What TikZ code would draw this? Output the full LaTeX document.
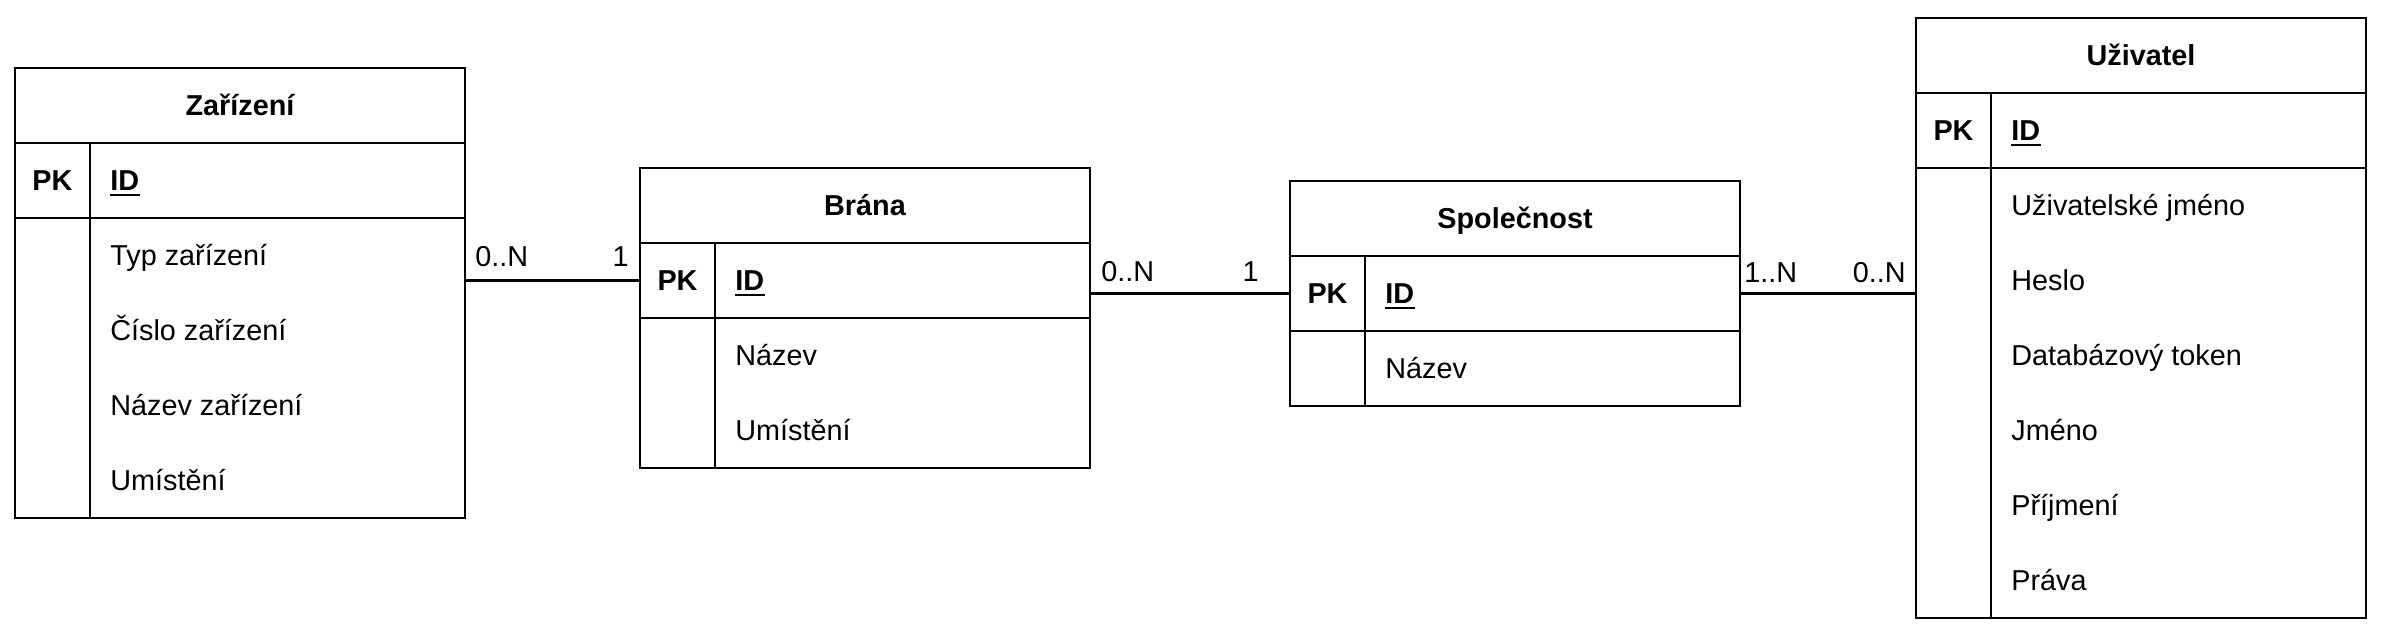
\documentclass[tikz,border=0pt]{standalone}
\usepackage{fontspec}
\setmainfont{Liberation Sans}
\usetikzlibrary{calc}
\tikzset{
  tbl/.style={draw, line width=1.1pt, minimum width=225pt, inner sep=0pt, outer sep=0pt},
  tblline/.style={line width=1.1pt},
  ttl/.style={font=\fontsize{14.4}{17}\selectfont\bfseries, inner sep=0pt, anchor=base},
  pk/.style={font=\fontsize{14.4}{17}\selectfont\bfseries, inner sep=0pt, anchor=base},
  key/.style={font=\fontsize{14.4}{17}\selectfont\bfseries, inner sep=0pt, anchor=base west},
  attr/.style={font=\fontsize{14.4}{17}\selectfont, inner sep=0pt, anchor=base west},
  lbl/.style={font=\fontsize{14.4}{17}\selectfont, inner sep=0pt},
  conn/.style={line width=1.1pt}
}
\newcommand\erbox[6]{%
  \pgfmathsetmacro\erh{150+75*#4}%
  \node[tbl, minimum height=\erh*0.5pt, anchor=north west] (#1) at (#2,#3) {};
  \node[ttl] (#1-title) at ($(#2,#3)+(225,47.8)$) {#5};
  \draw[tblline] ($(#2,#3)+(0,75)$) -- ++(450,0);
  \draw[tblline] ($(#2,#3)+(0,150)$) -- ++(450,0);
  \draw[tblline] ($(#2,#3)+(75,75)$) -- ($(#2,#3)+(75,\erh)$);
  \coordinate (#1-pk) at ($(#2,#3)+(37.5,112.5)$);
  \node[pk] (#1-pktext) at ($(#2,#3)+(37.5,122.8)$) {PK};
  \node[key] (#1-id) at ($(#2,#3)+(95,122.8)$) {ID};
  \draw[line width=1pt] ([yshift=-2pt]#1-id.base west) -- ([yshift=-2pt]#1-id.base east);
  \foreach \t [count=\i] in {#6} {
    \node[attr] (#1-a\i) at ($(#2,#3)+(95,122.8+75*\i)$) {\t};
  }
}
\begin{document}
\begin{tikzpicture}[x=0.5pt,y=-0.5pt]
\fill[white] (0,0) rectangle (2386,637);
\useasboundingbox (0,0) rectangle (2386,637);

\erbox{zar}{15}{68}{4}{Zařízení}{Typ zařízení,Číslo zařízení,Název zařízení,Umístění}
\erbox{bra}{640}{168}{2}{Brána}{Název,Umístění}
\erbox{spo}{1290}{181}{1}{Společnost}{Název}
\erbox{uzi}{1916}{18}{6}{Uživatel}{Uživatelské jméno,Heslo,Databázový token,Jméno,Příjmení,Práva}

\draw[conn] (zar.east |- bra-pk) -- (bra-pk -| bra.west);
\draw[conn] (bra.east |- spo-pk) -- (spo-pk -| spo.west);
\draw[conn] (spo.east |- spo-pk) -- (spo-pk -| uzi.west);

\node[lbl, anchor=base west] (l1a) at (475,266.5) {0..N};
\node[lbl, anchor=base east] (l1b) at (629,266.5) {1};
\node[lbl, anchor=base west] (l2a) at (1101,281) {0..N};
\node[lbl, anchor=base east] (l2b) at (1259,281) {1};
\node[lbl, anchor=base west] (l3a) at (1744,282) {1..N};
\node[lbl, anchor=base east] (l3b) at (1906,282) {0..N};
\end{tikzpicture}
\end{document}
